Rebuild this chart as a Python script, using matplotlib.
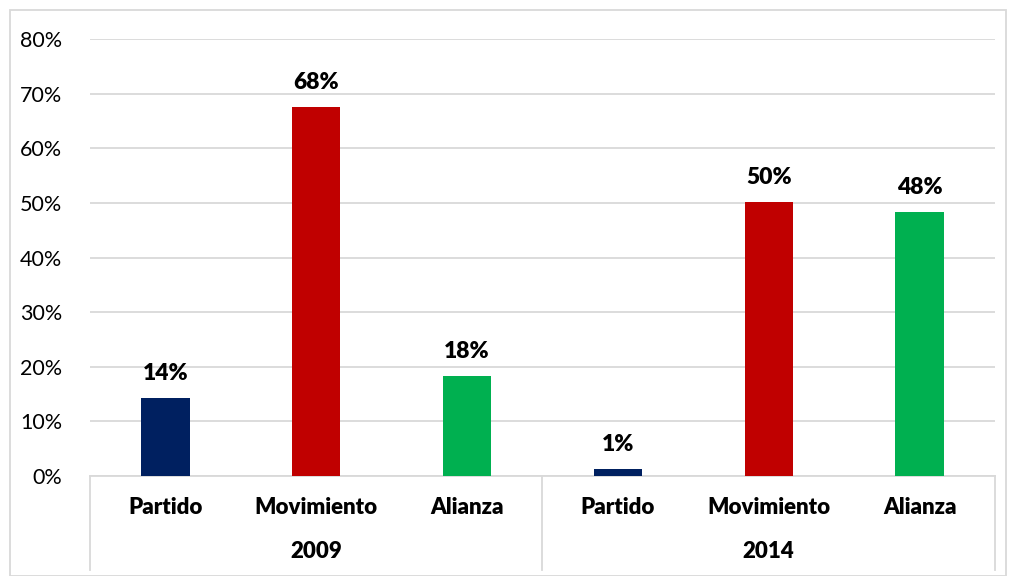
import matplotlib
matplotlib.use("Agg")
import matplotlib.pyplot as plt
from matplotlib.patches import Rectangle
from matplotlib.lines import Line2D

years = ["2009", "2014"]
categories = ["Partido", "Movimiento", "Alianza"]
values_2009 = [14.2, 67.6, 18.3]
values_2014 = [1.3, 50.2, 48.4]
labels_2009 = ["14%", "68%", "18%"]
labels_2014 = ["1%", "50%", "48%"]
colors = ["#002060", "#C00000", "#00B050"]
yticks = [0, 10, 20, 30, 40, 50, 60, 70, 80]

plt.rcParams['font.family'] = ['Lato', 'DejaVu Sans']

W, H = 1016, 576
fig = plt.figure(figsize=(W/100, H/100), dpi=100)
ax = fig.add_axes([90/W, (H-476)/H, (995-90)/W, (476-39)/H])

all_vals = values_2009 + values_2014
all_labels = labels_2009 + labels_2014
all_colors = colors + colors
xs = list(range(len(all_vals)))
bars = ax.bar(xs, all_vals, width=0.32, color=all_colors, zorder=3)
for x, v, lab in zip(xs, all_vals, all_labels):
    ax.annotate(lab, (x, v), xytext=(0, 14), textcoords="offset pixels",
                ha="center", va="bottom", fontsize=16.5, fontweight="heavy", color="#000000")

ax.set_xlim(-0.5, 5.5)
ax.set_ylim(0, 80)
ax.set_yticks(yticks)
ax.set_yticklabels([f"{t}%" for t in yticks], fontsize=15.5, color="#000000")
ax.yaxis.grid(True, color="#D9D9D9", linewidth=1.3, zorder=0)
ax.tick_params(axis="y", length=0, pad=20)
ax.set_xticks([])
for s in ["left", "right", "top"]:
    ax.spines[s].set_visible(False)
ax.spines["bottom"].set_color("#D9D9D9")
ax.spines["bottom"].set_linewidth(1.3)

# category labels
trans = ax.get_xaxis_transform()
for x in xs:
    ax.text(x, -31/437, categories[x % 3], transform=trans, ha="center", va="center",
            fontsize=16, fontweight="heavy", clip_on=False)
for i, yr in enumerate(years):
    ax.text(1 + 3*i, -75/437, yr, transform=trans, ha="center", va="center",
            fontsize=16, fontweight="heavy", clip_on=False)
for xb in [-0.5, 2.5, 5.5]:
    ax.add_line(Line2D([xb, xb], [0, -94/437], transform=trans, color="#D9D9D9",
                       linewidth=1.3, clip_on=False))

# outer border
fig.patches.append(Rectangle((10/W, 0/H), (1006-10)/W, (566-0)/H, transform=fig.transFigure,
                             fill=False, edgecolor="#D9D9D9", linewidth=1.3))

fig.savefig("out.png", dpi=100)
